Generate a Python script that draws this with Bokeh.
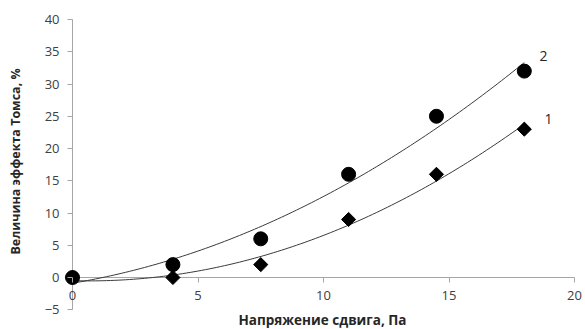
import numpy as np
from bokeh.plotting import figure
from bokeh.models import Label, FixedTicker
from bokeh.embed import file_html
from bokeh.resources import INLINE

stress = [0, 4, 7.5, 11, 14.5, 18]
effect_1 = [0, 0, 2, 9, 16, 23]
effect_2 = [0, 2, 6, 16, 25, 32]
x_ticks = [0, 5, 10, 15, 20]
y_ticks = [-5, 0, 5, 10, 15, 20, 25, 30, 35, 40]

FONT = "Open Sans"
GREY = "#404040"
AXIS = "#a6a6a6"

p = figure(width=585, height=329, x_range=(-2.869, 20.438), y_range=(-8.06, 42.95),
           output_backend="svg", toolbar_location=None,
           min_border_left=0, min_border_right=0, min_border_top=0, min_border_bottom=0)
p.grid.visible = False
p.outline_line_color = None

# axis lines spanning the tick range, as in the original chart
p.segment(x0=[x_ticks[0]], y0=[0], x1=[x_ticks[-1]], y1=[0], line_color=AXIS, line_width=1)
p.segment(x0=[0], y0=[y_ticks[0]], x1=[0], y1=[y_ticks[-1]], line_color=AXIS, line_width=1)

# polynomial trend lines (order 2) fitted to each series
xs = np.linspace(stress[0], stress[-1], 120)
for ys in (effect_1, effect_2):
    c = np.polyfit(stress, ys, 2)
    p.line(xs, np.polyval(c, xs), line_color="#3a3a3a", line_width=1)

p.scatter(stress, effect_1, marker="square", angle=np.pi / 4, size=10, color="black")
p.scatter(stress, effect_2, marker="circle", size=14, color="black")

p.xaxis.fixed_location = 0
p.yaxis.fixed_location = 0
p.xaxis.ticker = FixedTicker(ticks=x_ticks)
p.yaxis.ticker = FixedTicker(ticks=y_ticks)
for ax in (p.xaxis[0], p.yaxis[0]):
    ax.axis_line_color = None
    ax.major_tick_line_color = AXIS
    ax.minor_tick_line_color = None
    ax.major_tick_in = 0
    ax.major_tick_out = 5
    ax.major_label_standoff = 8
    ax.major_label_text_font = FONT
    ax.major_label_text_font_size = "13px"
    ax.major_label_text_color = GREY

p.add_layout(Label(x=9.96, y=-6.65, text="Напряжение сдвига, Па", text_font=FONT,
                   text_font_size="13.5px", text_font_style="bold", text_color="#262626",
                   text_align="center", text_baseline="middle"))
p.add_layout(Label(x=-2.27, y=18.0, text="Величина эффекта Томса, %", angle=np.pi / 2,
                   text_font=FONT, text_font_size="12.5px", text_font_style="bold",
                   text_color="#262626", text_align="center", text_baseline="middle"))

for txt, lx, ly in (("2", 18.76, 34.4), ("1", 18.96, 24.65)):
    p.add_layout(Label(x=lx, y=ly, text=txt, text_font=FONT, text_font_size="14px",
                       text_color="#262626", text_align="center", text_baseline="middle"))

open("out.html", "w").write(file_html(p, INLINE))
